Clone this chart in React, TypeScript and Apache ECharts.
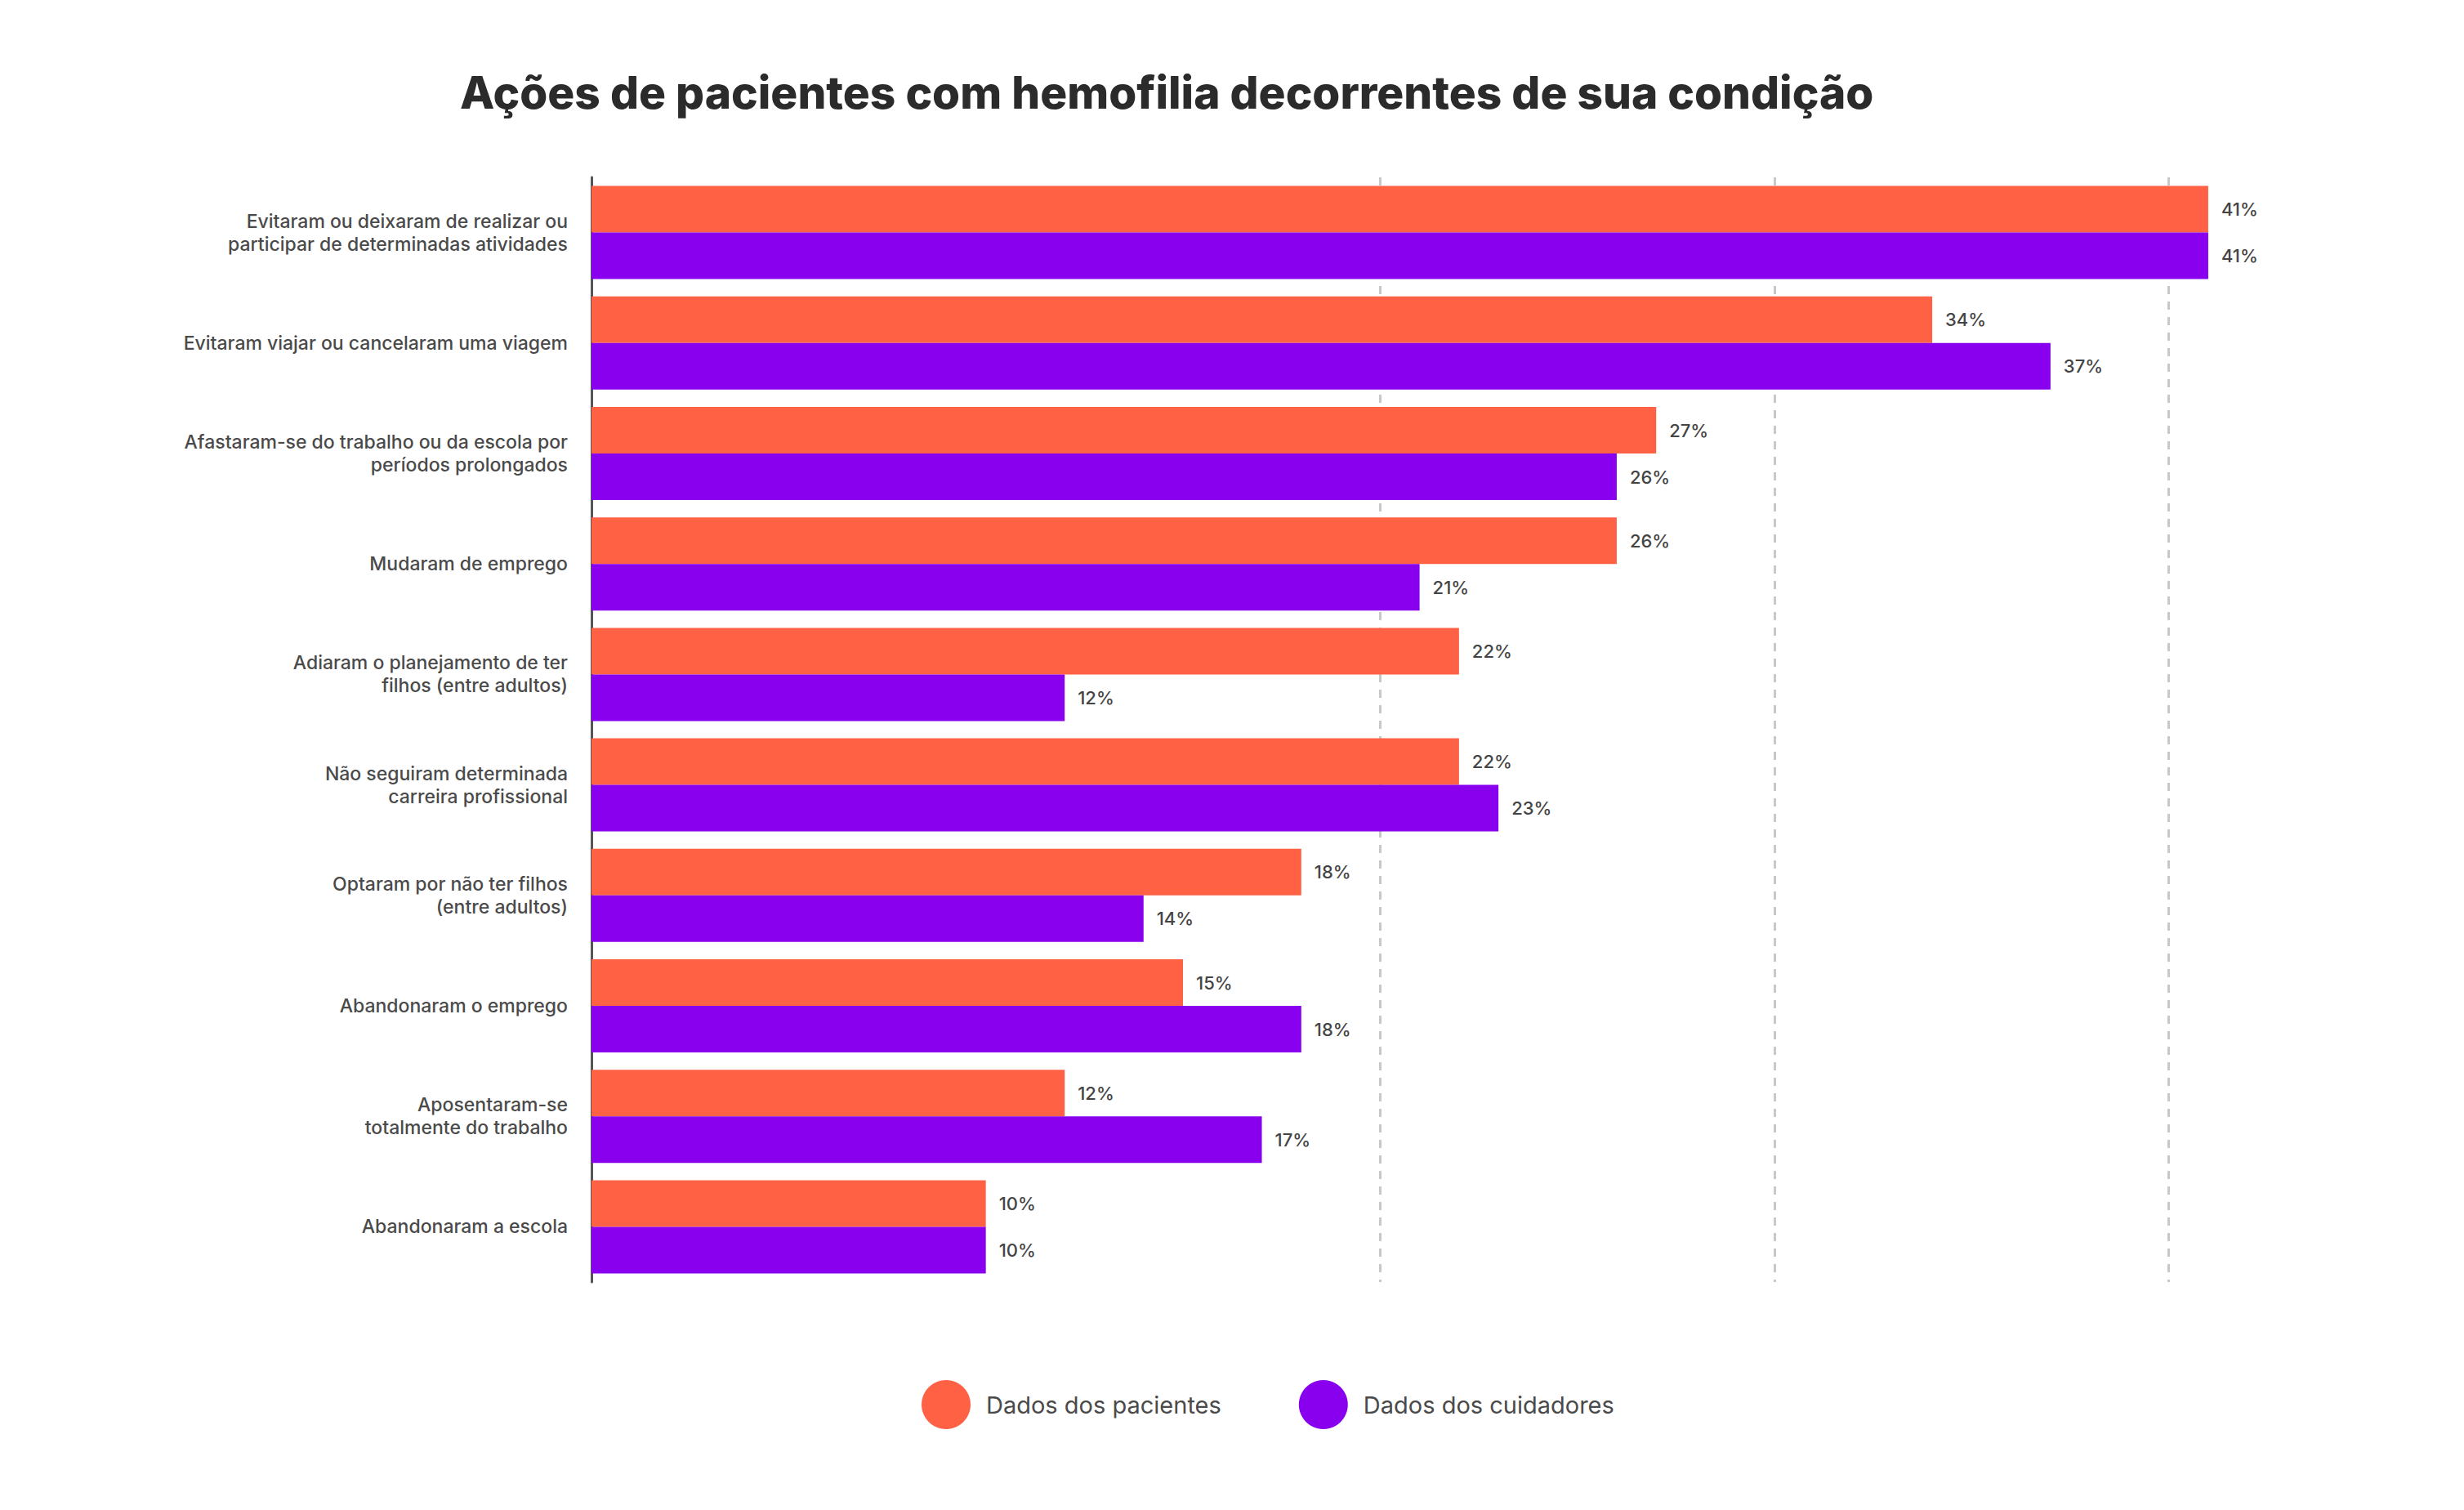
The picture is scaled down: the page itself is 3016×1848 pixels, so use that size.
import React, { useEffect, useRef } from 'react';
import * as echarts from 'echarts';

const categories = [
  'Evitaram ou deixaram de realizar ou\nparticipar de determinadas atividades',
  'Evitaram viajar ou cancelaram uma viagem',
  'Afastaram-se do trabalho ou da escola por\nperíodos prolongados',
  'Mudaram de emprego',
  'Adiaram o planejamento de ter\nfilhos (entre adultos)',
  'Não seguiram determinada\ncarreira profissional',
  'Optaram por não ter filhos\n(entre adultos)',
  'Abandonaram o emprego',
  'Aposentaram-se\ntotalmente do trabalho',
  'Abandonaram a escola'
];

const pacientes = [41, 34, 27, 26, 22, 22, 18, 15, 12, 10];
const cuidadores = [41, 37, 26, 21, 12, 23, 14, 18, 17, 10];

// dashed guide lines (no line at 10%)
const gridValues = [20, 30, 40];

const FONT = 'Inter, "Noto Sans", sans-serif';

const App: React.FC = () => {
  const chartRef = useRef<HTMLDivElement>(null);

  useEffect(() => {
    if (!chartRef.current) return;
    const myChart = echarts.init(chartRef.current, undefined, { renderer: 'svg' });

    const dataLabel = {
      show: true,
      position: 'right' as const,
      distance: 16,
      formatter: '{c}%',
      color: '#444',
      fontSize: 22,
      fontWeight: 500,
      fontFamily: FONT
    };

    myChart.setOption({
      animation: false,
      backgroundColor: '#fff',
      title: {
        text: 'Ações de pacientes com hemofilia decorrentes de sua condição',
        left: 558,
        top: 80,
        textStyle: {
          fontFamily: FONT,
          fontSize: 55,
          fontWeight: 800,
          color: '#2b2b2b'
        }
      },
      legend: {
        left: 1123,
        top: 1684,
        icon: 'circle',
        itemWidth: 60,
        itemHeight: 60,
        itemGap: 95,
        textStyle: {
          fontFamily: FONT,
          fontSize: 29,
          color: '#4a4a4a',
          padding: [0, 0, 0, 14]
        },
        data: ['Dados dos pacientes', 'Dados dos cuidadores']
      },
      grid: {
        left: 724,
        top: 217,
        width: 2172,
        height: 1352,
        containLabel: false
      },
      xAxis: {
        type: 'value',
        min: 0,
        max: 45,
        interval: 5,
        axisLine: { show: false },
        axisTick: { show: false },
        axisLabel: { show: false },
        splitLine: { show: false }
      },
      yAxis: {
        type: 'category',
        inverse: true,
        data: categories,
        axisLine: { show: true, lineStyle: { color: '#555', width: 3 } },
        axisTick: { show: false },
        axisLabel: {
          margin: 29,
          fontFamily: FONT,
          fontSize: 23,
          fontWeight: 500,
          lineHeight: 28,
          color: '#4a4a4a',
          align: 'right'
        }
      },
      series: [
        {
          name: 'Dados dos pacientes',
          type: 'bar',
          data: pacientes,
          barWidth: 57,
          barGap: '0%',
          itemStyle: { color: '#FF6145' },
          label: dataLabel,
          z: 2,
          markLine: {
            silent: true,
            symbol: 'none',
            z: 1,
            label: { show: false },
            lineStyle: { color: '#c8c8c8', type: [10, 9], width: 3 },
            data: gridValues.map((v) => ({ xAxis: v }))
          }
        },
        {
          name: 'Dados dos cuidadores',
          type: 'bar',
          data: cuidadores,
          barWidth: 57,
          barGap: '0%',
          itemStyle: { color: '#8800EE' },
          label: dataLabel,
          z: 2
        }
      ]
    });

    return () => {
      myChart.dispose();
    };
  }, []);

  return (
    <div
      ref={chartRef}
      style={{ position: 'absolute', left: 0, top: 0, width: '3016px', height: '1848px' }}
    />
  );
};

export default App;
